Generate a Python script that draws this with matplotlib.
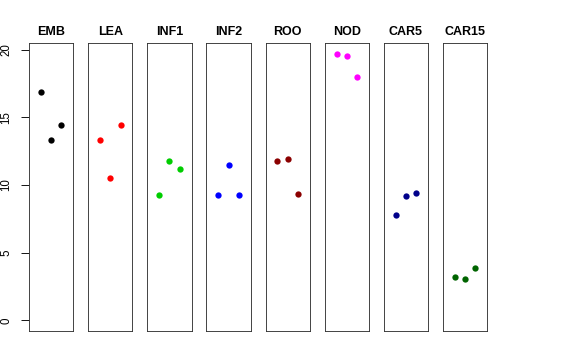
import numpy as np
import matplotlib as mpl
import matplotlib.pyplot as plt

mpl.rc('font', family=['Liberation Sans', 'DejaVu Sans'])
mpl.rc('axes', linewidth=0.9)

# dados
grupos = ["EMB", "LEA", "INF1", "INF2", "ROO", "NOD", "CAR5", "CAR15"]
cores = ["#000000", "#FF0000", "#00CD00", "#0000FF",
         "#8B0000", "#FF00FF", "#00008B", "#006400"]
emb = [16.9, 13.35, 14.46]
lea = [13.35, 10.49, 14.46]
inf1 = [9.26, 11.80, 11.16]
inf2 = [9.26, 11.45, 9.28]
roo = [11.80, 11.92, 9.33]
nod = [19.71, 19.51, 17.96]
car5 = [7.76, 9.16, 9.41]
car15 = [3.20, 3.03, 3.89]
valores = [emb, lea, inf1, inf2, roo, nod, car5, car15]
yticks = [0, 5, 10, 15, 20]

# ---------------------------------------------------------------

W, H = 576, 360
fig = plt.figure(figsize=(W / 72, H / 72), dpi=72)

# limites no estilo do R (4% de folga)
ymax = max(max(v) for v in valores)
ypad = 0.04 * ymax
ylim = (0 - ypad, ymax + ypad)
xlim = (0 - 0.16, 4 + 0.16)

esq0, passo, larg = 29, 59.14, 44.3
topo, base = 43, 331

for i, (nome, cor, vals) in enumerate(zip(grupos, cores, valores)):
    ax = fig.add_axes([(esq0 + i * passo) / W, 1 - base / H,
                       larg / W, (base - topo) / H])
    x = np.arange(1, len(vals) + 1)
    ax.plot(x, vals, 'o', color=cor, markersize=6.3, markeredgewidth=0)
    ax.set_xlim(*xlim)
    ax.set_ylim(*ylim)
    ax.set_xticks([])
    ax.set_title(nome, fontsize=12.5, fontweight='bold', pad=8)
    for s in ax.spines.values():
        s.set_color('#333333')
    if i == 0:
        ax.set_yticks(yticks)
        ax.tick_params(axis='y', length=8, width=0.9, pad=9, labelsize=11.5)
        for lbl in ax.get_yticklabels():
            lbl.set_rotation(90)
            lbl.set_va('center')
    else:
        ax.set_yticks([])

plt.savefig("out.png", dpi=72)
